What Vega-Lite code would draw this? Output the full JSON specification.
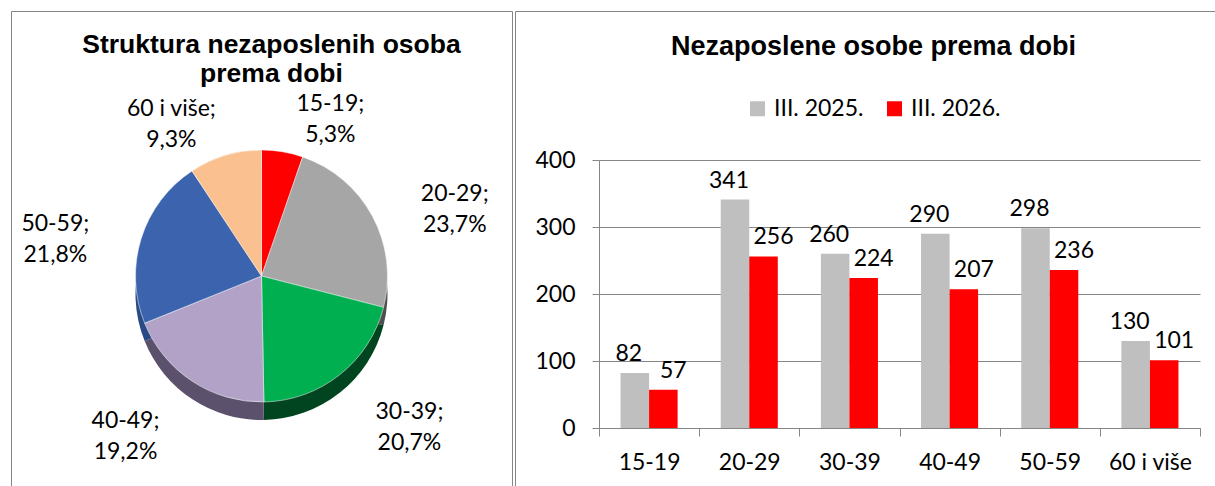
{
  "$schema": "https://vega.github.io/schema/vega-lite/v6.json",
  "padding": {"left": 10, "top": 10, "right": 0, "bottom": 0},
  "background": "white",
  "bounds": "flush",
  "spacing": 3,
  "resolve": {"scale": {"color": "independent"}},
  "config": {
    "view": {"stroke": "#868686", "strokeWidth": 1},
    "font": "Lato"
  },
  "hconcat": [
    {
      "width": 501,
      "height": 530,
      "view": {"stroke": "#868686", "strokeWidth": 1},
      "title": {
        "text": ["Struktura nezaposlenih osoba", "prema dobi"],
        "font": "Liberation Sans",
        "fontSize": 26.5,
        "fontWeight": "bold",
        "lineHeight": 29,
        "color": "#000000",
        "anchor": "middle",
        "frame": "group",
        "dx": 10,
        "offset": -76
      },
      "data": {
        "values": [
          {"age": "15-19", "pct": 5.3, "label": "5,3%"},
          {"age": "20-29", "pct": 23.7, "label": "23,7%"},
          {"age": "30-39", "pct": 20.7, "label": "20,7%"},
          {"age": "40-49", "pct": 19.2, "label": "19,2%"},
          {"age": "50-59", "pct": 21.8, "label": "21,8%"},
          {"age": "60 i više", "pct": 9.3, "label": "9,3%"}
        ]
      },
      "transform": [
        {"calculate": "datum.age + ';\\n' + datum.label", "as": "txt"}
      ],
      "layer": [
        {
          "mark": {"type": "arc", "outerRadius": 126, "yOffset": 18},
          "encoding": {
            "theta": {"field": "pct", "type": "quantitative", "stack": true},
            "fill": {
              "field": "age",
              "type": "nominal",
              "sort": null,
              "scale": {
                "domain": ["15-19", "20-29", "30-39", "40-49", "50-59", "60 i više"],
                "range": ["#9A0000", "#4F4F4F", "#00451F", "#5B516C", "#2A4A85", "#B98A60"]
              },
              "legend": null
            },
            "order": {"field": "age", "sort": "ascending"}
          }
        },
        {
          "mark": {"type": "arc", "outerRadius": 126, "stroke": "#ffffff", "strokeWidth": 0.5},
          "encoding": {
            "theta": {"field": "pct", "type": "quantitative", "stack": true},
            "color": {
              "field": "age",
              "type": "nominal",
              "sort": null,
              "scale": {
                "domain": ["15-19", "20-29", "30-39", "40-49", "50-59", "60 i više"],
                "range": ["#FF0000", "#A6A6A6", "#00B050", "#B3A2C7", "#3C64AE", "#FAC090"]
              },
              "legend": null
            },
            "order": {"field": "age", "sort": "ascending"}
          }
        },
        {
          "mark": {
            "type": "text",
            "radius": 174,
            "dx": {"expr": "(datum.pct_start + datum.pct_end) / 2 < 50 ? 40 : -40"},
            "font": "Lato",
            "fontSize": 23,
            "lineBreak": "\n",
            "lineHeight": 31,
            "color": "#000000"
          },
          "encoding": {
            "theta": {"field": "pct", "type": "quantitative", "stack": true},
            "order": {"field": "age", "sort": "ascending"},
            "text": {"field": "txt", "type": "nominal"}
          }
        }
      ]
    },
    {
      "width": 705,
      "height": 546,
      "title": {
        "text": "Nezaposlene osobe prema dobi",
        "font": "Liberation Sans",
        "fontSize": 27,
        "fontWeight": "bold",
        "color": "#000000",
        "anchor": "middle",
        "frame": "group",
        "dx": 6,
        "offset": -50
      },
      "data": {
        "values": [
          {"age": "15-19", "period": "III. 2025.", "value": 82},
          {"age": "15-19", "period": "III. 2026.", "value": 57},
          {"age": "20-29", "period": "III. 2025.", "value": 341},
          {"age": "20-29", "period": "III. 2026.", "value": 256},
          {"age": "30-39", "period": "III. 2025.", "value": 260},
          {"age": "30-39", "period": "III. 2026.", "value": 224},
          {"age": "40-49", "period": "III. 2025.", "value": 290},
          {"age": "40-49", "period": "III. 2026.", "value": 207},
          {"age": "50-59", "period": "III. 2025.", "value": 298},
          {"age": "50-59", "period": "III. 2026.", "value": 236},
          {"age": "60 i više", "period": "III. 2025.", "value": 130},
          {"age": "60 i više", "period": "III. 2026.", "value": 101}
        ]
      },
      "encoding": {
        "x": {
          "field": "age",
          "type": "nominal",
          "sort": null,
          "title": null,
          "scale": {"range": [84, 685], "paddingInner": 0, "paddingOuter": 0},
          "axis": {
            "offset": -129,
            "labelAngle": 0,
            "labelFont": "Lato",
            "labelFontSize": 23,
            "labelColor": "#000000",
            "labelPadding": 15,
            "tickBand": "extent",
            "tickSize": 8,
            "tickColor": "#868686",
            "domainColor": "#868686",
            "grid": false
          }
        },
        "xOffset": {
          "field": "period",
          "type": "nominal",
          "scale": {"paddingInner": 0, "paddingOuter": 0.755}
        },
        "y": {
          "field": "value",
          "type": "quantitative",
          "title": null,
          "scale": {"domain": [0, 400], "range": [417, 149], "nice": false},
          "axis": {
            "offset": -84,
            "values": [0, 100, 200, 300, 400],
            "labelFont": "Lato",
            "labelFontSize": 23,
            "labelColor": "#000000",
            "labelPadding": 17,
            "tickSize": 7,
            "tickColor": "#868686",
            "domainColor": "#868686",
            "gridColor": "#868686",
            "grid": true
          }
        }
      },
      "layer": [
        {
          "mark": {"type": "bar"},
          "encoding": {
            "color": {
              "field": "period",
              "type": "nominal",
              "scale": {"domain": ["III. 2025.", "III. 2026."], "range": ["#BFBFBF", "#FF0000"]},
              "legend": {
                "title": null,
                "orient": "none",
                "direction": "horizontal",
                "legendX": 231,
                "legendY": 86,
                "symbolType": "square",
                "symbolSize": 225,
                "symbolStrokeWidth": 0,
                "symbolOpacity": 1,
                "labelFont": "Lato",
                "labelFontSize": 23,
                "labelColor": "#000000",
                "labelOffset": 5,
                "columnPadding": 19
              }
            }
          }
        },
        {
          "transform": [{"filter": "datum.period === 'III. 2025.'"}],
          "mark": {"type": "text", "font": "Lato", "fontSize": 23, "baseline": "alphabetic", "dy": -12, "dx": -6, "color": "#000000"},
          "encoding": {"text": {"field": "value", "type": "quantitative"}}
        },
        {
          "transform": [{"filter": "datum.period === 'III. 2026.'"}],
          "mark": {"type": "text", "font": "Lato", "fontSize": 23, "baseline": "alphabetic", "dy": -12, "dx": 10, "color": "#000000"},
          "encoding": {"text": {"field": "value", "type": "quantitative"}}
        }
      ]
    }
  ]
}
